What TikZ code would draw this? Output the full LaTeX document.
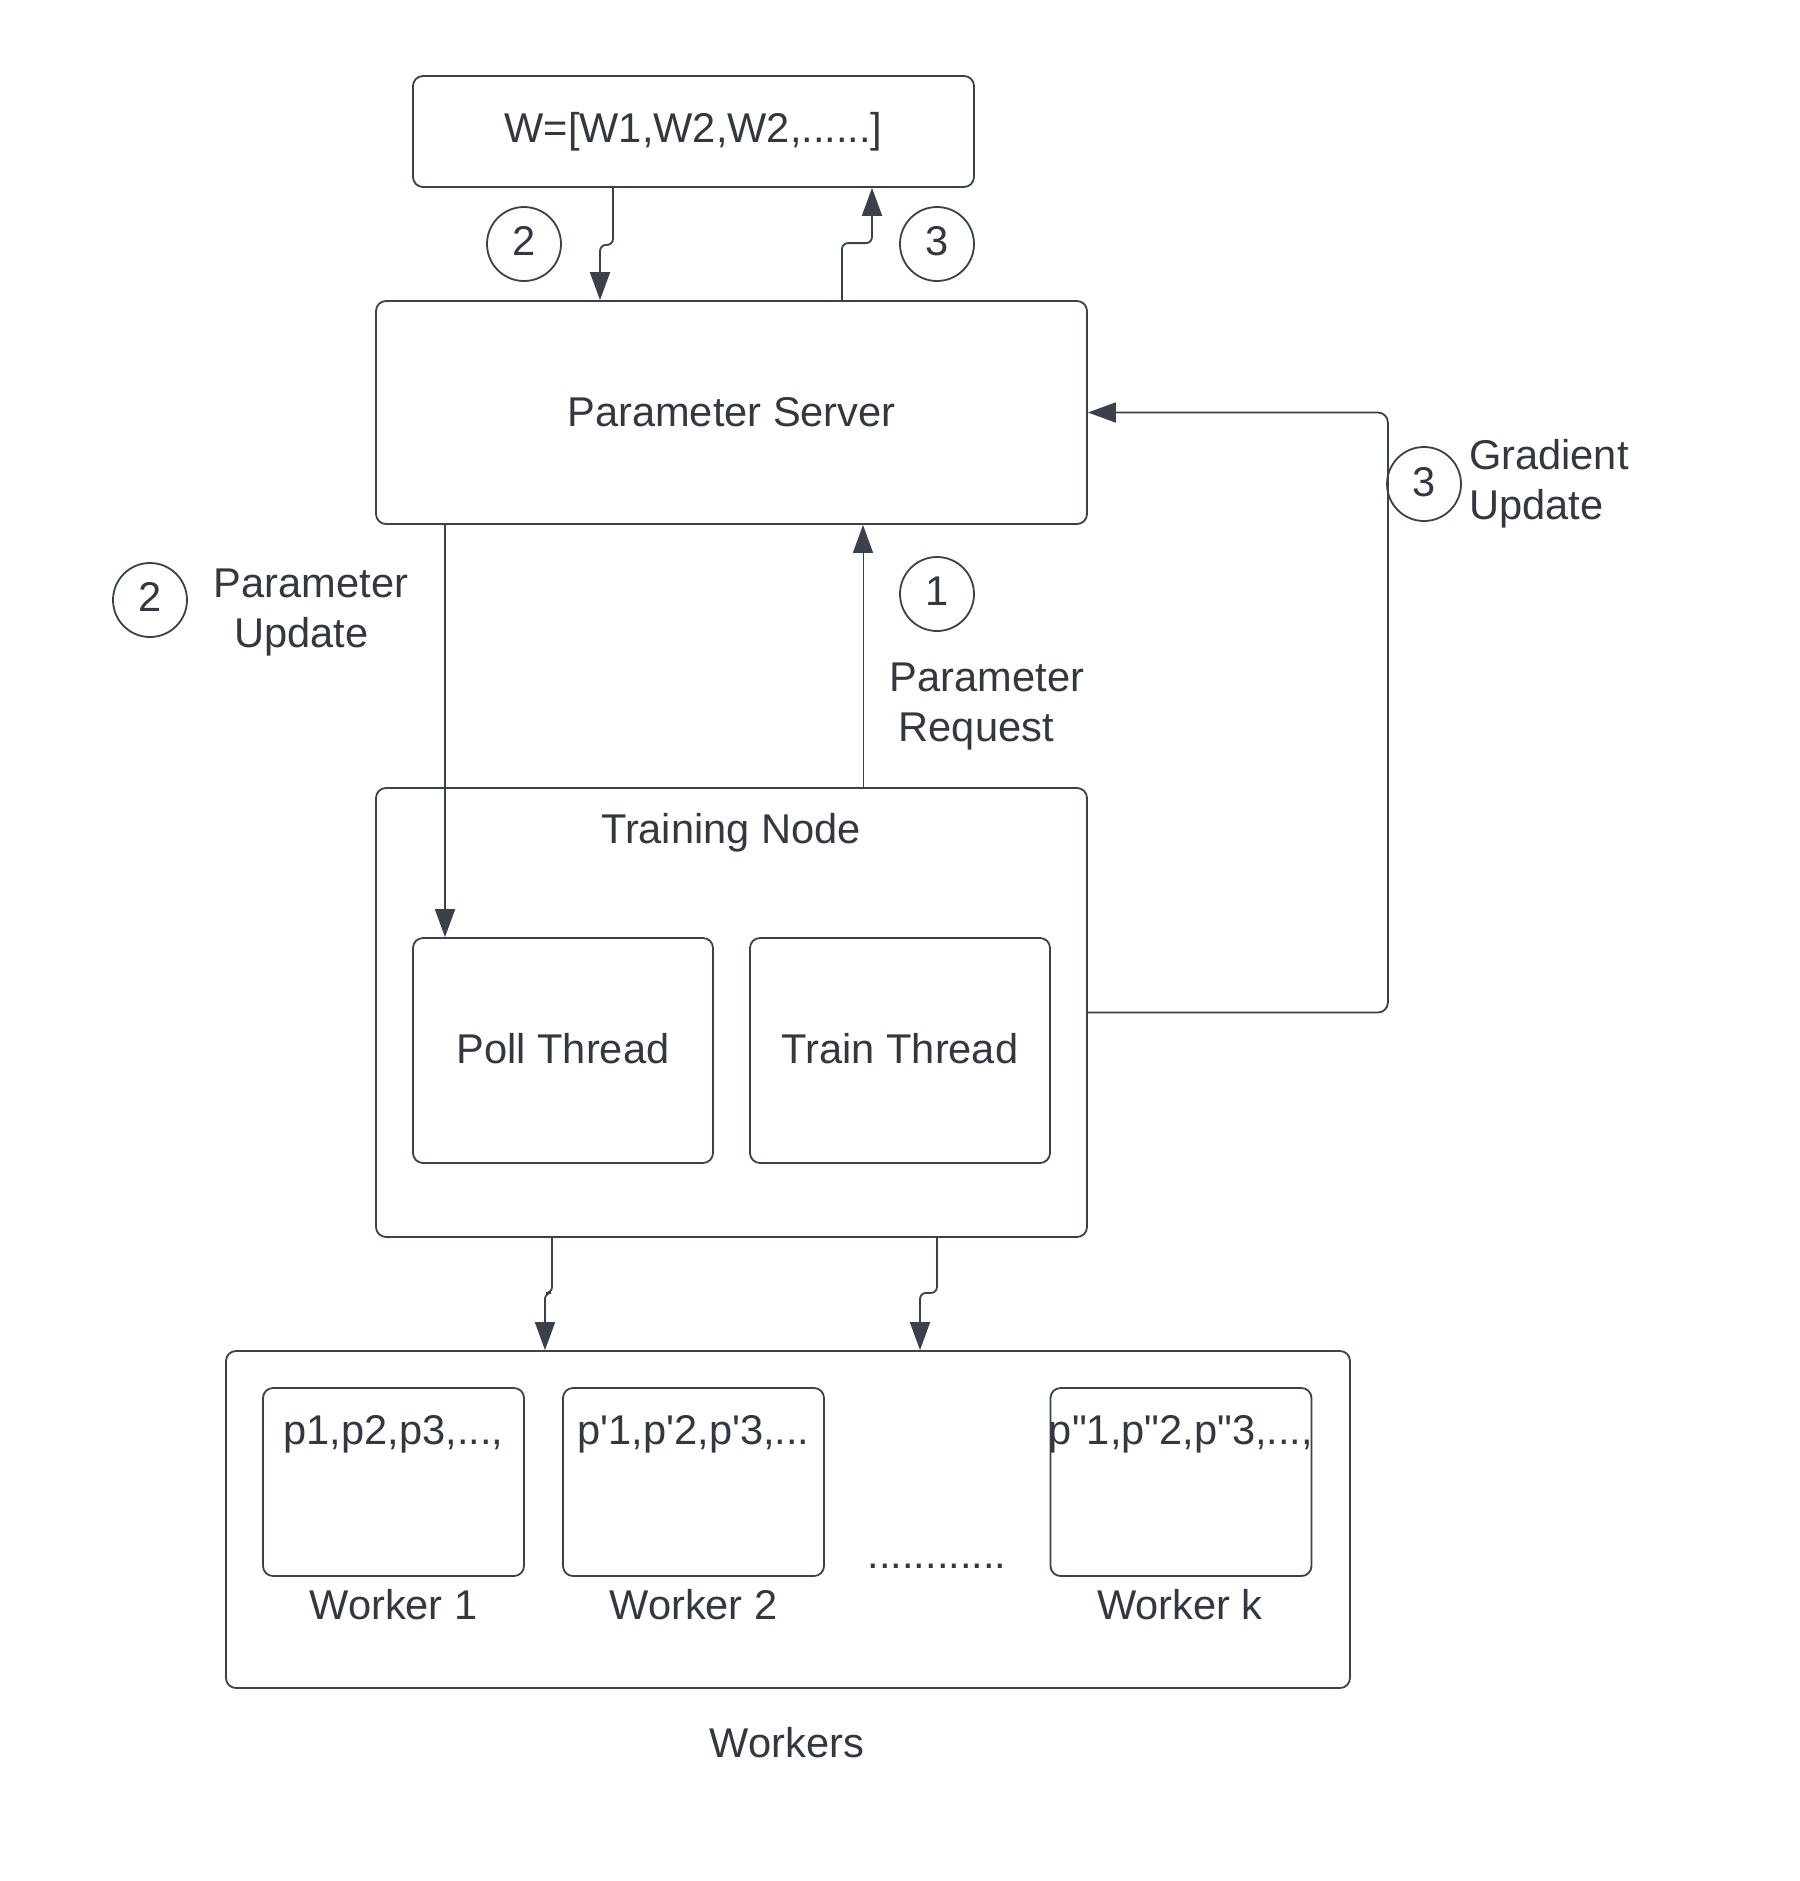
\documentclass[tikz,border=0pt]{standalone}
\usepackage{fontspec}
\newfontfamily\lib{Liberation Sans}
\usetikzlibrary{arrows.meta,calc}
\definecolor{ln}{RGB}{58,65,74}
\definecolor{txt}{RGB}{51,56,64}
\begin{document}
\begin{tikzpicture}[x=0.5pt,y=-0.5pt,
  every node/.style={font=\lib\fontsize{20.8}{25}\selectfont, text=txt},
  box/.style={draw=ln, line width=0.9pt, rounded corners=5pt, inner sep=0pt},
  num/.style={draw=ln, line width=0.9pt, circle, minimum size=37pt, inner sep=0pt},
  conn/.style={draw=ln, line width=0.9pt},
  tip/.style={-{Triangle[length=14pt,width=10pt]}},
  arr/.style={conn, tip},
]
\useasboundingbox[fill=white] (0,0) rectangle (1800,1881);

% boxes
\node[box, minimum width=280.5pt, minimum height=55.5pt] (W) at (693.5,131.5) {W=[W1,W2,W2,......]};
\node[box, minimum width=355.5pt, minimum height=111.5pt] (PS) at (731.5,412.5) {\raisebox{1pt}{Parameter Server}};
\node[box, minimum width=355.5pt, minimum height=224.5pt] (TN) at (731.5,1012.5) {};
\node (TNl) at (731,833) {Training Node};
\node[box, minimum width=150pt, minimum height=112.5pt] (Poll) at (563,1050.5) {\raisebox{2pt}{Poll Thread}};
\node[box, minimum width=150pt, minimum height=112.5pt] (Train) at (900,1050.5) {\raisebox{2pt}{Train Thread}};

\node[box, minimum width=562pt, minimum height=168.5pt] (WS) at (788,1519.5) {};
\node[box, minimum width=130.5pt, minimum height=94pt] (W1) at (393.5,1482) {};
\node[box, minimum width=130.5pt, minimum height=94pt] (W2) at (693.5,1482) {};
\node[box, minimum width=130.5pt, minimum height=94pt] (WK) at (1181,1482) {};
\node (p1) at (393.5,1434) {p1,p2,p3,...,};
\node (p2) at (693.5,1434) {p'1,p'2,p'3,...};
\node (pk) at (1181,1434) {p"1,p"2,p"3,...,};
\node (l1) at (393.5,1605) {Worker 1};
\node (l2) at (693.5,1605) {Worker 2};
\node (lk) at (1180,1605) {Worker k};
\node[anchor=base] (dots) at (937,1568) {............};
\node (wl) at (787,1743) {Workers};

% numbered circles
\node[num] (c2a) at (524,244) {\raisebox{3pt}{2}};
\node[num] (c3a) at (937,244) {\raisebox{3pt}{3}};
\node[num] (c1) at (937,594) {\raisebox{3pt}{1}};
\node[num] (c3b) at (1424,484) {\raisebox{2pt}{3}};
\node[num] (c2b) at (150,600) {\raisebox{3pt}{2}};

% labels
\node[align=center] (pu) at (311,612) {Parameter\\Update\hspace*{9.6pt}};
\node[align=center] (pr) at (987,706) {Parameter\\Request\hspace*{10.8pt}};
\node[align=left, anchor=west] (gu) at (1462,484) {Gradient\\Update};

% connectors
\draw[arr, rounded corners=3pt] ($(W.south)+(-80.5,0)$) -- ++(0,57) -- ++(-13,0) -- ($(PS.north)+(-131.5,0)$);
\draw[arr, rounded corners=3pt] ($(PS.north)+(110.5,0)$) -- ++(0,-57) -- ++(30,0) -- ($(W.south)+(178.5,0)$);
\draw[arr] ($(PS.south)+(-286.5,0)$) -- ($(Poll.north)+(-118,0)$);
\draw[conn, line width=0.5pt, tip] ($(TN.north)+(131.5,0)$) -- ($(PS.south)+(131.5,0)$);
\draw[arr, rounded corners=5pt] (TN.east) -- ++(300,0) |- (PS.east);
\draw[arr, rounded corners=3pt] ($(TN.south)+(-179.5,0)$) -- ++(0,55) -- ++(-7,0) -- ($(WS.north)+(-243,0)$);
\draw[arr, rounded corners=3pt] ($(TN.south)+(205.5,0)$) -- ++(0,55) -- ++(-17,0) -- ($(WS.north)+(132,0)$);
\end{tikzpicture}
\end{document}
